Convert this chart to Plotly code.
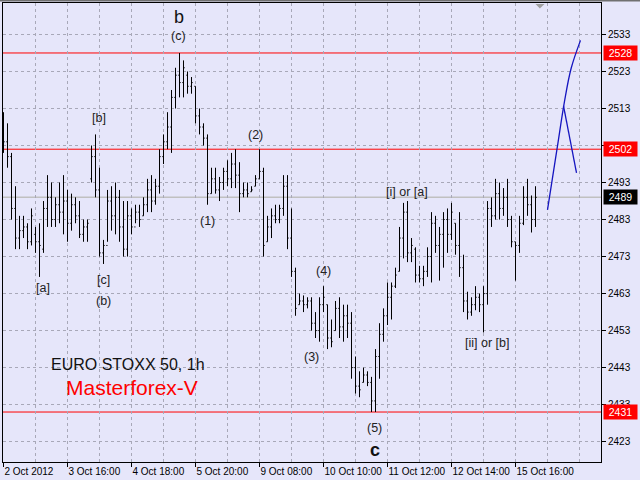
import plotly.graph_objects as go

# ---------------- data ----------------
opens = [2510, 2504, 2500, 2486, 2478, 2480, 2481, 2477, 2479, 2477,
         2475, 2486, 2489, 2483, 2487, 2485, 2488, 2482, 2487, 2484,
         2479, 2481, 2494, 2500, 2491, 2474, 2476, 2488, 2484, 2489,
         2481, 2475, 2484, 2481, 2485, 2484, 2487, 2491, 2488, 2492,
         2500, 2504, 2508, 2516, 2522, 2520, 2522, 2519, 2519, 2511,
         2508, 2505, 2490, 2494, 2491, 2493, 2496, 2494, 2498, 2495,
         2490, 2491, 2490.5, 2492, 2494, 2496, 2477, 2481, 2484, 2483,
         2486, 2492, 2478, 2469, 2460, 2461, 2460, 2461, 2455, 2453,
         2460, 2460, 2451, 2453, 2459, 2454, 2457, 2455, 2443, 2438,
         2439, 2441, 2439, 2434, 2446, 2452, 2457, 2462, 2465, 2469,
         2478, 2485, 2474, 2475, 2468, 2467, 2469, 2473, 2482, 2476,
         2479, 2483, 2479, 2482, 2476, 2470, 2461, 2458, 2460, 2462,
         2460, 2463, 2486, 2484, 2490, 2486, 2489, 2483, 2477, 2476,
         2482, 2489, 2487, 2483]
highs = [2512, 2509, 2501, 2492, 2484, 2484, 2482, 2486, 2481, 2482,
         2488, 2495, 2493, 2489, 2493, 2495, 2491, 2490, 2489, 2488,
         2483, 2483, 2503, 2506, 2497, 2477.5, 2491, 2492, 2493, 2491,
         2488, 2488, 2486, 2487, 2487, 2489, 2494, 2495, 2494, 2502,
         2506, 2512, 2518, 2524, 2528, 2526, 2523, 2521.5, 2519, 2513,
         2509, 2506, 2497, 2497, 2494.5, 2497, 2499, 2501, 2502, 2498.5,
         2493, 2493, 2492, 2495, 2502, 2497, 2484, 2486, 2487, 2487,
         2495, 2495, 2486, 2470, 2463, 2462.5, 2462, 2462, 2458, 2462,
         2465, 2460, 2456, 2461, 2462, 2460, 2460, 2458, 2446, 2442,
         2443, 2442, 2440.5, 2448, 2455, 2459, 2466, 2466, 2470, 2481,
         2487.5, 2488, 2478, 2475.5, 2470.5, 2470.5, 2475.5, 2485, 2484, 2481,
         2485, 2486, 2487.5, 2482, 2485, 2473.5, 2463.5, 2462, 2465, 2463,
         2465, 2488, 2489, 2494, 2493, 2491.5, 2494, 2484, 2477, 2484,
         2492, 2494, 2489.5, 2492]
lows = [2501, 2497, 2483, 2475, 2475, 2478, 2475, 2476, 2474, 2467.5,
        2474, 2481, 2481, 2481, 2482, 2479, 2477, 2480, 2482, 2478,
        2477, 2477, 2493, 2489, 2473, 2471, 2477, 2480, 2479, 2477,
        2473, 2473, 2479, 2482, 2481, 2484, 2485, 2485, 2487, 2490,
        2498, 2502, 2501, 2513, 2516, 2516, 2517, 2517, 2509, 2506,
        2503, 2487, 2490, 2490, 2488, 2491, 2492, 2491.5, 2491.5, 2485,
        2489, 2489, 2490.5, 2492, 2494, 2473, 2477, 2478, 2482, 2482,
        2484, 2475, 2467.5, 2457, 2460, 2458, 2459, 2453, 2451, 2450,
        2458, 2448, 2448.5, 2453, 2451, 2450, 2451, 2440, 2436, 2435,
        2439, 2438, 2431, 2431, 2440, 2450, 2454.5, 2456, 2464.5, 2469,
        2472.5, 2471.5, 2471.5, 2466, 2466, 2465, 2467.5, 2466, 2474, 2466.5,
        2470, 2474, 2477.5, 2473.5, 2467.5, 2458, 2456, 2457, 2458.5, 2458,
        2452.5, 2460, 2481, 2483, 2483, 2484, 2481, 2475.5, 2466.5, 2474,
        2481.5, 2484, 2479.5, 2481]
closes = [2504, 2500, 2486, 2478, 2480, 2481, 2477, 2484, 2477, 2476,
          2486, 2489, 2483, 2487, 2485, 2488, 2482, 2487, 2484, 2479,
          2481, 2482, 2500, 2491, 2474, 2476, 2488, 2484, 2489, 2481,
          2475, 2484, 2481, 2485, 2483, 2487, 2491, 2488, 2492, 2500,
          2504, 2508, 2516, 2522, 2520, 2524, 2519, 2520, 2511, 2508,
          2505, 2490, 2494, 2491, 2493, 2496, 2494, 2498, 2495, 2490,
          2491, 2490, 2491, 2494, 2496, 2476, 2481, 2484, 2483, 2486,
          2492, 2478, 2469, 2459, 2461, 2460, 2461, 2455, 2453, 2460,
          2462, 2451, 2450, 2459, 2454, 2457, 2455, 2443, 2438, 2437,
          2441, 2439, 2434, 2446, 2452, 2457, 2462, 2465, 2468, 2478,
          2485, 2474, 2476, 2468, 2467, 2469, 2473, 2482, 2476, 2479,
          2483, 2479, 2485, 2476, 2470, 2461, 2458, 2460, 2462, 2460,
          2463, 2486, 2484, 2490, 2486, 2489, 2483, 2477, 2476, 2482,
          2489, 2487, 2483, 2489]

date_tick_pos = [0, 16, 32, 48, 64, 80, 96, 112, 128]
date_tick_labels = ["2 Oct 2012", "3 Oct 16:00", "4 Oct 18:00", "5 Oct 20:00",
                    "9 Oct 08:00", "10 Oct 10:00", "11 Oct 12:00",
                    "12 Oct 14:00", "15 Oct 16:00"]
price_ticks = [2423, 2433, 2443, 2453, 2463, 2473, 2483, 2493, 2503, 2513, 2523, 2533]
price_tick_labels = ["2423", "2433", "2443", "2453", "2463", "2473", "2483", "2493",
                     "", "2513", "2523", "2533"]  # 2503 hidden behind the 2502 marker

red_levels = [2528, 2502, 2431]
bid_level = 2489

proj_up_x = [136, 138.4, 140.25, 141.9, 144.25]
proj_up_y = [2485.6, 2502.2, 2514.9, 2523.8, 2531.4]
proj_down_x = [140, 143.25]
proj_down_y = [2513.7, 2495.6]

wave_labels = [
    ("(c)", 43.75, 2532.6), ("[b]", 23.75, 2510.4), ("[a]", 9.75, 2464.5),
    ("[c]", 25, 2466.6), ("(b)", 25, 2461.0), ("(1)", 50.9, 2482.6),
    ("(2)", 63, 2505.8), ("(3)", 77, 2445.8), ("(4)", 79.9, 2469.1),
    ("(5)", 92.75, 2426.6), ("[i] or [a]", 100.75, 2490.4),
    ("[ii] or [b]", 120.9, 2449.7),
]
big_labels = [("b", 43.75, 2537.7, False), ("c", 92.75, 2420.7, True)]

# ---------------- figure ----------------
BG = "#E6E6FA"
GRID = "#A8A8B8"
FONT = "Liberation Sans, Arial, sans-serif"

n = len(highs)
fig = go.Figure()
fig.add_trace(go.Ohlc(
    x=list(range(n)), open=opens, high=highs, low=lows, close=closes,
    increasing=dict(line=dict(color="black", width=1)),
    decreasing=dict(line=dict(color="black", width=1)),
    tickwidth=0.3, hoverinfo="skip", showlegend=False,
))
fig.add_trace(go.Scatter(x=proj_up_x, y=proj_up_y, mode="lines",
                         line=dict(color="#1515C0", width=1.3, shape="spline"),
                         hoverinfo="skip", showlegend=False))
fig.add_trace(go.Scatter(x=proj_down_x, y=proj_down_y, mode="lines",
                         line=dict(color="#1515C0", width=1.3),
                         hoverinfo="skip", showlegend=False))

shapes = []
for lv in red_levels:
    shapes.append(dict(type="line", xref="paper", x0=0, x1=1, yref="y", y0=lv, y1=lv,
                       line=dict(color="#FF0000", width=1), layer="below"))
shapes.append(dict(type="line", xref="paper", x0=0, x1=1, yref="y", y0=bid_level, y1=bid_level,
                   line=dict(color="#C0C0C0", width=1.5), layer="below"))
# chart shift marker
shapes.append(dict(type="path", xref="x", yref="paper",
                   path="M 133,0.998 L 135.25,0.998 L 134.1,0.988 Z",
                   fillcolor="#A0A0A0", line=dict(width=0)))
# window top border
shapes.append(dict(type="line", xref="paper", x0=-0.01, x1=1.1, yref="paper",
                   y0=1.0055, y1=1.0055, line=dict(color="#707070", width=2)))

annotations = []
for txt, xv, yv in wave_labels:
    annotations.append(dict(x=xv, y=yv, xref="x", yref="y", text=txt, showarrow=False,
                            font=dict(family=FONT, size=12.5, color="#222222")))
for txt, xv, yv, bold in big_labels:
    annotations.append(dict(x=xv, y=yv, xref="x", yref="y",
                            text=f"<b>{txt}</b>" if bold else txt, showarrow=False,
                            font=dict(family=FONT, size=18, color="#111111")))
annotations.append(dict(x=31, y=2443.8, xref="x", yref="y", text="EURO STOXX 50, 1h",
                        showarrow=False, font=dict(family=FONT, size=16, color="#111111")))
annotations.append(dict(x=32, y=2437.6, xref="x", yref="y", text="Masterforex-V",
                        showarrow=False, font=dict(family=FONT, size=21, color="#FF0000")))
for lv in red_levels:
    annotations.append(dict(x=1.003, y=lv, xref="paper", yref="y", text=str(lv),
                            xanchor="left", showarrow=False, bgcolor="#FF0000",
                            borderpad=1, width=31,
                            font=dict(family=FONT, size=10.5, color="white")))
annotations.append(dict(x=1.003, y=bid_level, xref="paper", yref="y", text=str(bid_level),
                        xanchor="left", showarrow=False, bgcolor="#000000",
                        borderpad=1, width=31,
                        font=dict(family=FONT, size=10.5, color="white")))

fig.update_layout(
    width=640, height=480,
    margin=dict(l=3, r=39, t=3, b=18, autoexpand=False),
    paper_bgcolor=BG, plot_bgcolor=BG,
    shapes=shapes, annotations=annotations,
    showlegend=False,
    xaxis=dict(
        range=[-0.125, 149.375], rangeslider=dict(visible=False),
        tickmode="array", tickvals=date_tick_pos, ticktext=date_tick_labels,
        ticklabelposition="outside right", tickangle=0, automargin=False,
        ticks="outside", ticklen=4, tickcolor="black",
        showgrid=True, gridcolor=GRID, griddash="3px,3px", gridwidth=1,
        minor=dict(tickmode="array", tickvals=[8, 24, 40, 56, 72, 88, 104, 120, 136, 144],
                   showgrid=True, gridcolor=GRID, griddash="3px,3px", gridwidth=1, ticks=""),
        showline=True, linecolor="black", linewidth=1, mirror=True,
        zeroline=False, fixedrange=True,
        tickfont=dict(family=FONT, size=10, color="black"),
    ),
    yaxis=dict(
        range=[2417.5, 2541.5], side="right", automargin=False,
        tickmode="array", tickvals=price_ticks, ticktext=price_tick_labels,
        ticks="outside", ticklen=4, tickcolor="black",
        showgrid=True, gridcolor=GRID, griddash="3px,3px", gridwidth=1,
        showline=True, linecolor="black", linewidth=1, mirror=True,
        zeroline=False, fixedrange=True,
        tickfont=dict(family=FONT, size=10, color="black"),
    ),
)

fig.write_html("out.html", config={"displayModeBar": False},
               post_script="document.body.style.margin='0';document.body.style.overflow='hidden';")
